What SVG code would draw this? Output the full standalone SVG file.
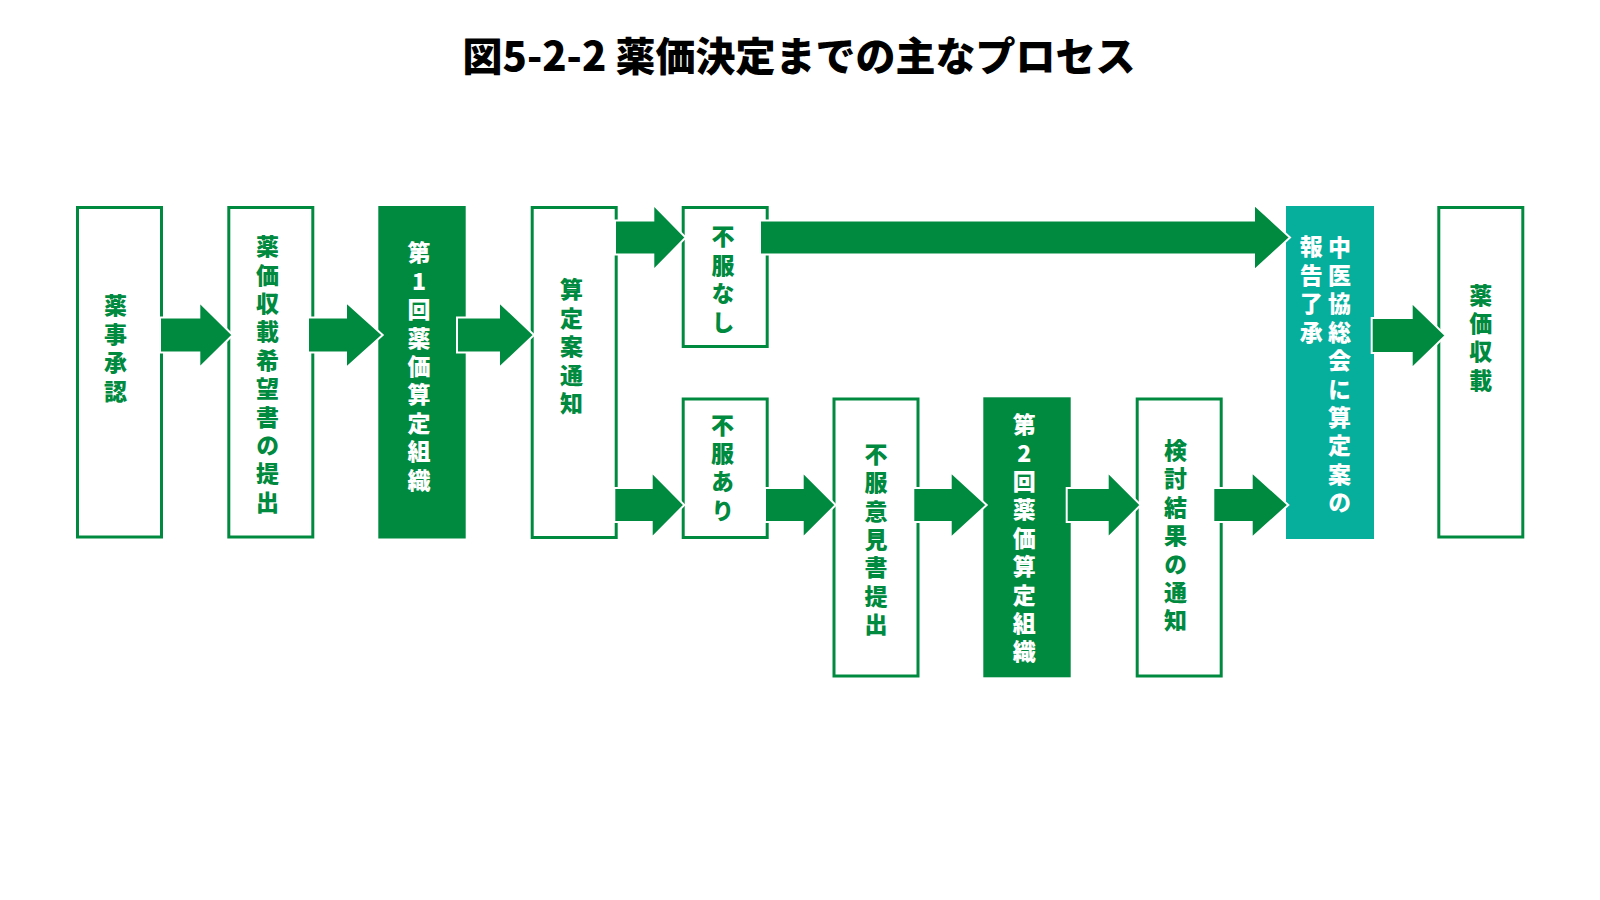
<svg xmlns="http://www.w3.org/2000/svg" width="1600" height="900" viewBox="0 0 1600 900">
<style>
.bx{fill:#ffffff;stroke:#008A40;stroke-width:3}
.fg{fill:#008A40}
.tl{fill:#05AF9C}
.ar{fill:#008A40;stroke:#ffffff;stroke-width:2;stroke-linejoin:miter}
.lb{font-family:"Noto Sans CJK JP","Noto Sans",sans-serif;font-weight:900;font-size:23px;text-anchor:middle;writing-mode:vertical-rl;text-orientation:upright;letter-spacing:5.4px;fill:#008A40}
.lw{fill:#ffffff}
.ti{font-family:"Noto Sans CJK JP","Noto Sans",sans-serif;font-weight:900;font-size:40px;text-anchor:middle;fill:#000000}
</style>
<rect width="1600" height="900" fill="#ffffff"/>
<text class="ti" x="799" y="71">図5-2-2 薬価決定までの主なプロセス</text>

<g id="n1"><rect class="bx" x="77.5" y="207.5" width="84" height="329.5"/>
<text class="lb" x="115.5" y="351">薬事承認</text></g>

<g id="n2"><rect class="bx" x="228.8" y="207.5" width="84" height="329.5"/>
<text class="lb" x="267.5" y="377">薬価収載希望書の提出</text></g>

<g id="n3"><rect class="fg" x="378.3" y="206" width="87.4" height="332.5"/>
<text class="lb lw" x="419" y="369">第1回薬価算定組織</text></g>

<g id="n4"><rect class="bx" x="532.2" y="207.5" width="84" height="330"/>
<text class="lb" x="571.5" y="349.2">算定案通知</text></g>

<g id="n5"><rect class="bx" x="683.2" y="207.5" width="84" height="139"/>
<text class="lb" x="723" y="281.9">不服なし</text></g>

<g id="n6"><rect class="bx" x="683.2" y="399" width="84" height="138.5"/>
<text class="lb" x="722.5" y="470.2">不服あり</text></g>

<g id="n7"><rect class="bx" x="834" y="399" width="84" height="277"/>
<text class="lb" x="876" y="542">不服意見書提出</text></g>

<g id="n8"><rect class="fg" x="983.3" y="397.3" width="87.4" height="280"/>
<text class="lb lw" x="1024.2" y="540.7">第2回薬価算定組織</text></g>

<g id="n9"><rect class="bx" x="1137.2" y="399" width="84" height="277"/>
<text class="lb" x="1175.5" y="538.1">検討結果の通知</text></g>

<g id="n10"><rect class="tl" x="1286" y="206" width="88" height="333"/>
<text class="lb lw" x="1339.5" y="377.3">中医協総会に算定案の</text>
<text class="lb lw" x="1311.2" y="292">報告了承</text></g>

<g id="n11"><rect class="bx" x="1438.8" y="207.5" width="84" height="329.5"/>
<text class="lb" x="1480.8" y="340.2">薬価収載</text></g>

<g id="connectors">
<polygon class="ar" points="160,317.5 199.3,317.5 199.3,302 232.7,335 199.3,368 199.3,352.5 160,352.5"/>
<polygon class="ar" points="308,317.5 346,317.5 346,302 382.7,335 346,368 346,352.5 308,352.5"/>
<polygon class="ar" points="457,317.5 499,317.5 499,302 534,335 499,368 499,352.5 457,352.5"/>
<polygon class="ar" points="615,220.5 653.3,220.5 653.3,204.5 685.7,237.5 653.3,270.5 653.3,254.5 615,254.5"/>
<polygon class="ar" points="760,220.5 1254,220.5 1254,204.5 1290,237.5 1254,270.5 1254,254.5 760,254.5"/>
<polygon class="ar" points="614.3,488 651.7,488 651.7,472 684.3,505 651.7,538 651.7,522 614.3,522"/>
<polygon class="ar" points="765,488 802.7,488 802.7,472 835.7,505 802.7,538 802.7,522 765,522"/>
<polygon class="ar" points="913.3,488 950.7,488 950.7,472 986.7,505 950.7,538 950.7,522 913.3,522"/>
<polygon class="ar" points="1066.7,488 1107.7,488 1107.7,472 1140.7,505 1107.7,538 1107.7,522 1066.7,522"/>
<polygon class="ar" points="1213.3,488 1251.7,488 1251.7,472 1288.3,505 1251.7,538 1251.7,522 1213.3,522"/>
<polygon class="ar" points="1371.7,318 1411.7,318 1411.7,302.5 1445.7,335.5 1411.7,368.5 1411.7,353 1371.7,353"/>
</g>
</svg>
